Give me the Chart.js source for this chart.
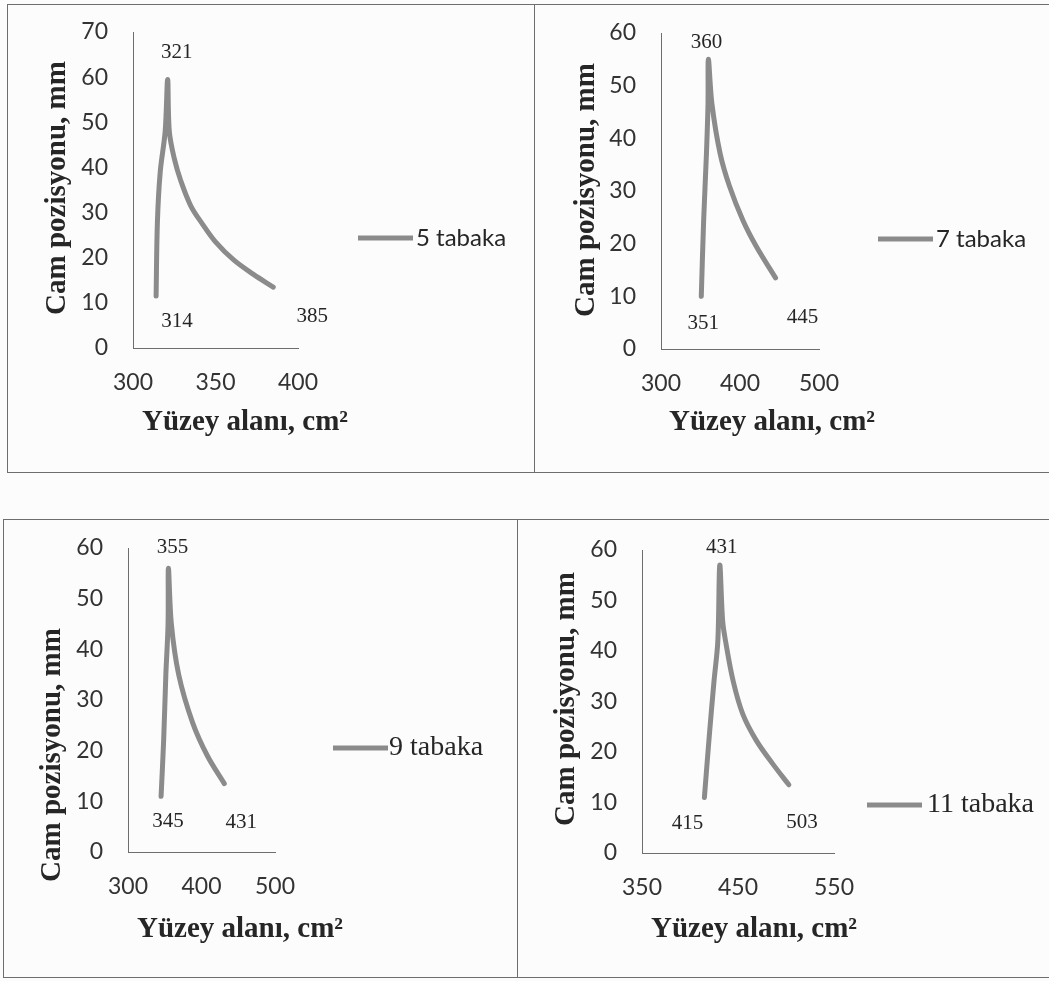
<!DOCTYPE html>
<html>
<head>
<meta charset="utf-8">
<script src="https://cdn.jsdelivr.net/npm/chart.js@4"></script>
<style>
    body {
        margin: 0;
        width: 1049px;
        height: 981px;
        overflow: hidden;
        position: relative;
        background: #fcfcfc;
    }
    .rule {
        position: absolute;
        background: #6e6e6e;
    }
    canvas {
        position: absolute;
    }
</style>
</head>
<body>
<!-- panel frames -->
<div class="rule" style="left:7px;top:4px;width:1042px;height:1px"></div>
<div class="rule" style="left:7px;top:4px;width:1px;height:469px"></div>
<div class="rule" style="left:534px;top:4px;width:1px;height:469px"></div>
<div class="rule" style="left:7px;top:472px;width:1042px;height:1px"></div>
<div class="rule" style="left:3px;top:519px;width:1046px;height:1px"></div>
<div class="rule" style="left:3px;top:519px;width:1px;height:459px"></div>
<div class="rule" style="left:517px;top:519px;width:1px;height:459px"></div>
<div class="rule" style="left:3px;top:977px;width:1046px;height:1px"></div>

<canvas id="c5" width="527" height="468" style="left:7px;top:4px"></canvas>
<canvas id="c7" width="515" height="468" style="left:534px;top:4px"></canvas>
<canvas id="c9" width="514" height="458" style="left:3px;top:519px"></canvas>
<canvas id="c11" width="532" height="458" style="left:517px;top:519px"></canvas>

<script>
// 5 tabaka
var yuzey5 = [314, 314.8, 316.5, 319.5, 321, 322, 325, 329, 335, 342, 350, 361, 373, 385];
var cam5 = [11.5, 28, 39, 48, 59.5, 48, 42, 37, 31.5, 27.5, 23.5, 19.5, 16.3, 13.5];
var xTicks5 = [300, 350, 400];
var yTicks5 = [0, 10, 20, 30, 40, 50, 60, 70];

// 7 tabaka
var yuzey7 = [351, 354, 357.5, 359.5, 360, 364.5, 375, 386.5, 403.5, 420.5, 445];
var cam7 = [10, 24.5, 37, 46.5, 55, 46.5, 37, 31, 24.5, 19.5, 13.5];
var xTicks7 = [300, 400, 500];
var yTicks7 = [0, 10, 20, 30, 40, 50, 60];

// 9 tabaka
var yuzey9 = [345, 348.5, 351.5, 354.5, 355, 359, 369, 388, 408, 431];
var cam9 = [11, 22, 35, 45, 56, 45, 35, 25.5, 19, 13.5];
var xTicks9 = [300, 400, 500];
var yTicks9 = [0, 10, 20, 30, 40, 50, 60];

// 11 tabaka
var yuzey11 = [415, 420, 425, 429, 431, 434, 437, 445, 455, 469, 486, 503];
var cam11 = [11, 23, 34, 42, 57, 46, 42, 34, 27.5, 22.3, 17.7, 13.5];
var xTicks11 = [350, 450, 550];
var yTicks11 = [0, 10, 20, 30, 40, 50, 60];

var LINE = '#8b8b8b';
var INK = '#262626';
var SANS = 'Lato';
var SERIF = '"Liberation Serif"';

// draws axis titles, the legend and the x value labels
var panelText = {
    id: 'panelText',
    afterDatasetsDraw(chart, args, o) {
        var ctx = chart.ctx;
        var ds = chart.data.datasets[0];
        var pts = chart.getDatasetMeta(0).data;
        var ys = ds.data.map(d => d.y);
        var idx = { start: 0, peak: ys.indexOf(Math.max(...ys)), end: ys.length - 1 };

        ctx.save();
        ctx.fillStyle = INK;
        ctx.textAlign = 'center';
        ctx.textBaseline = 'middle';

        ctx.font = '21px ' + SERIF;
        o.labels.forEach(l => {
            var p = pts[idx[l.at]];
            ctx.fillText(String(ds.data[idx[l.at]].x), p.x + l.dx, p.y + l.dy);
        });

        ctx.font = 'bold 29px ' + SERIF;
        ctx.fillText('Yüzey alanı, cm²', o.xTitle[0], o.xTitle[1]);
        ctx.save();
        ctx.translate(o.yTitle[0], o.yTitle[1]);
        ctx.rotate(-Math.PI / 2);
        ctx.fillText('Cam pozisyonu, mm', 0, 0);
        ctx.restore();

        var lg = o.legend;
        ctx.strokeStyle = ds.borderColor;
        ctx.lineWidth = 5;
        ctx.beginPath();
        ctx.moveTo(lg.x1, lg.y);
        ctx.lineTo(lg.x2, lg.y);
        ctx.stroke();
        ctx.textAlign = 'left';
        ctx.font = lg.font;
        ctx.fillText(ds.label, lg.tx, lg.y);
        ctx.restore();
    }
};

function makeChart(id, label, xs, ys, xTicks, yTicks, box, text) {
    var canvas = document.getElementById(id);
    var W = canvas.width, H = canvas.height;
    var points = xs.map((x, i) => ({ x: x, y: ys[i] }));

    new Chart(canvas, {
        type: 'scatter',
        data: {
            datasets: [{
                label: label,
                data: points,
                showLine: true,
                borderColor: LINE,
                borderWidth: 5,
                borderCapStyle: 'round',
                borderJoinStyle: 'round',
                pointRadius: 0,
                tension: 0.35
            }]
        },
        options: {
            responsive: false,
            animation: false,
            events: [],
            layout: {
                padding: { left: 0, top: box.top, right: W - box.right, bottom: 0 }
            },
            plugins: {
                legend: { display: false },
                tooltip: { enabled: false },
                panelText: text
            },
            scales: {
                x: {
                    type: 'linear',
                    min: xTicks[0],
                    max: xTicks[xTicks.length - 1],
                    ticks: {
                        stepSize: xTicks[1] - xTicks[0],
                        font: { family: SANS, size: 23 },
                        color: '#333',
                        padding: 21
                    },
                    grid: { drawOnChartArea: false, drawTicks: false },
                    border: { color: '#6e6e6e', width: 1 },
                    afterFit: s => {
                        s.height = H - box.bottom;
                        s.paddingLeft = 0;
                        s.paddingRight = 0;
                    }
                },
                y: {
                    min: yTicks[0],
                    max: yTicks[yTicks.length - 1],
                    ticks: {
                        stepSize: yTicks[1] - yTicks[0],
                        font: { family: SANS, size: 23 },
                        color: '#333',
                        padding: 25
                    },
                    grid: { drawOnChartArea: false, drawTicks: false },
                    border: { color: '#6e6e6e', width: 1 },
                    afterFit: s => {
                        s.width = box.left;
                        s.paddingTop = 0;
                        s.paddingBottom = 0;
                    }
                }
            }
        },
        plugins: [panelText]
    });
}

makeChart('c5', '5 tabaka', yuzey5, cam5, xTicks5, yTicks5,
    { left: 126, top: 28, right: 291, bottom: 344 },
    {
        labels: [{ at: 'peak', dx: 9, dy: -27 }, { at: 'start', dx: 21, dy: 25 }, { at: 'end', dx: 39, dy: 29 }],
        xTitle: [238, 419], yTitle: [51, 184],
        legend: { x1: 351, x2: 406, y: 234, tx: 409, font: '24px ' + SANS }
    });

makeChart('c7', '7 tabaka', yuzey7, cam7, xTicks7, yTicks7,
    { left: 127, top: 29, right: 285, bottom: 345 },
    {
        labels: [{ at: 'peak', dx: -2, dy: -17 }, { at: 'start', dx: 2, dy: 27 }, { at: 'end', dx: 27, dy: 40 }],
        xTitle: [238, 419], yTitle: [53, 186],
        legend: { x1: 344, x2: 399, y: 235, tx: 402, font: '24px ' + SANS }
    });

makeChart('c9', '9 tabaka', yuzey9, cam9, xTicks9, yTicks9,
    { left: 125, top: 29, right: 272, bottom: 333 },
    {
        labels: [{ at: 'peak', dx: 4, dy: -21 }, { at: 'start', dx: 7, dy: 25 }, { at: 'end', dx: 17, dy: 39 }],
        xTitle: [237, 411], yTitle: [50, 236],
        legend: { x1: 330, x2: 385, y: 229, tx: 386, font: '28px ' + SERIF }
    });

makeChart('c11', '11 tabaka', yuzey11, cam11, xTicks11, yTicks11,
    { left: 125, top: 31, right: 317, bottom: 334 },
    {
        labels: [{ at: 'peak', dx: 2, dy: -18 }, { at: 'start', dx: -17, dy: 26 }, { at: 'end', dx: 13, dy: 38 }],
        xTitle: [237, 411], yTitle: [50, 180],
        legend: { x1: 350, x2: 405, y: 286, tx: 410, font: '28px ' + SERIF }
    });
</script>
</body>
</html>
